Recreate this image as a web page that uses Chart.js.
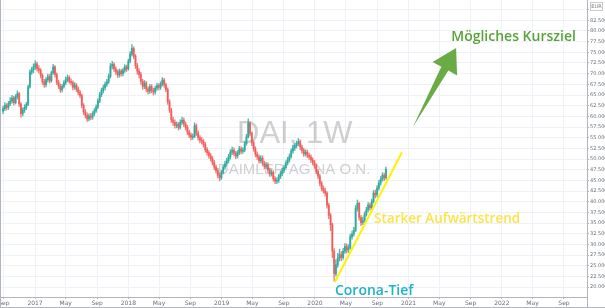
<!DOCTYPE html>
<html>
<head>
<meta charset="utf-8">
<script src="https://cdn.jsdelivr.net/npm/chart.js@4.4.0/dist/chart.umd.min.js"></script>
<style>
  html, body { margin: 0; padding: 0; background: #fff; }
  #wrap { width: 605px; height: 308px; }
</style>
</head>
<body>
<div id="wrap"><canvas id="canvas" width="605" height="308"></canvas></div>
<script>
// DAI weekly candles, first week starting 2016-08-29
const firstWeek = '2016-08-29';
const firstOpen = 61.2;

const closes = [
  61.8, 62.6, 62.1, 63.0, 63.6, 64.3, 63.2, 64.6, 65.3, 62.9,
  60.6, 61.5, 62.1, 62.8, 66.9, 70.4, 70.9, 71.6, 72.3, 71.2,
  70.8, 69.6, 68.1, 67.4, 68.6, 69.3, 68.4, 70.2, 71.6, 69.8,
  68.0, 67.1, 66.2, 67.0, 67.9, 68.6, 69.1, 68.2, 67.9, 66.8,
  67.3, 66.4, 65.6, 64.9, 62.6, 61.0, 60.2, 59.4, 60.1, 59.8,
  60.6, 61.3, 62.2, 63.6, 65.1, 66.0, 66.7, 67.5, 68.1, 69.4,
  71.8, 72.2, 71.1, 70.4, 69.7, 70.6, 70.0, 70.8, 71.6, 71.1,
  72.9, 74.6, 75.9, 74.1, 71.9, 70.6, 69.8, 68.2, 67.0, 67.8,
  66.4, 65.9, 67.0, 66.1, 65.7, 66.6, 67.2, 66.8, 67.6, 68.5,
  67.4, 66.3, 63.4, 61.5, 59.2, 58.6, 57.9, 58.1, 57.4, 58.6,
  59.1, 58.2, 57.4, 56.3, 55.6, 55.1, 55.3, 57.8, 56.1, 55.0,
  54.4, 54.1, 53.4, 52.2, 51.5, 50.8, 50.1, 49.2, 48.1, 47.3,
  46.2, 45.6, 46.9, 48.1, 48.9, 49.6, 50.5, 51.6, 52.1, 51.3,
  50.7, 51.5, 52.4, 51.8, 52.1, 53.6, 55.2, 58.4, 56.0, 53.8,
  52.4, 51.1, 50.5, 49.6, 50.2, 49.0, 48.3, 48.6, 47.4, 46.5,
  46.9, 45.4, 44.8, 45.0, 45.9, 46.6, 47.3, 48.0, 49.1, 49.8,
  50.6, 51.9, 52.6, 53.1, 53.6, 54.1, 52.8, 52.0, 51.2, 51.6,
  50.9, 50.5, 49.8, 49.2, 48.4, 47.1, 46.0, 44.3, 43.1, 42.6,
  42.0, 39.2, 36.8, 34.6, 28.4, 23.1, 25.2, 26.8, 27.6, 26.9,
  28.4, 29.5, 28.7, 29.2, 31.8, 32.4, 33.3, 38.4, 39.6, 36.3,
  35.1, 35.6, 37.0, 38.1, 39.2, 38.6, 40.1, 42.0, 41.6, 43.2,
  44.4, 45.3, 46.2, 45.6, 47.6
];

const highs = [
  62.4, 63.2, 63.0, 63.5, 64.4, 64.9, 64.7, 65.1, 66.0, 65.6,
  63.2, 62.0, 62.7, 63.3, 67.3, 70.9, 71.5, 72.3, 73.0, 72.7,
  71.9, 71.2, 70.0, 68.7, 69.1, 69.9, 69.8, 70.6, 72.2, 71.9,
  70.2, 68.5, 67.6, 67.5, 68.4, 69.2, 69.7, 69.5, 68.8, 68.3,
  67.9, 67.7, 66.9, 66.1, 65.2, 63.0, 61.6, 60.8, 60.6, 60.7,
  61.1, 61.8, 62.7, 64.1, 65.6, 66.6, 67.3, 68.0, 68.7, 69.9,
  72.4, 72.9, 72.6, 71.6, 70.9, 71.1, 71.0, 71.3, 72.1, 72.0,
  73.4, 75.2, 76.8, 76.3, 74.5, 72.4, 71.2, 70.3, 68.7, 68.4,
  68.2, 66.9, 67.5, 67.4, 66.6, 67.1, 67.8, 67.7, 68.1, 69.1,
  68.9, 67.8, 66.7, 63.9, 61.9, 59.8, 59.2, 58.7, 58.6, 59.2,
  59.8, 59.6, 58.7, 57.9, 56.8, 56.1, 55.9, 58.5, 58.2, 56.6,
  55.5, 55.0, 54.6, 53.9, 52.7, 52.0, 51.3, 50.6, 49.7, 48.6,
  47.8, 46.7, 47.4, 48.6, 49.5, 50.2, 51.1, 52.2, 52.8, 52.6,
  51.8, 52.0, 53.0, 52.9, 52.7, 54.1, 55.8, 59.4, 58.8, 56.4,
  54.3, 52.9, 51.7, 51.0, 50.8, 50.7, 49.5, 49.2, 49.1, 47.9,
  47.5, 47.3, 45.9, 45.6, 46.4, 47.1, 47.9, 48.6, 49.6, 50.4,
  51.2, 52.4, 53.2, 53.7, 54.2, 54.8, 54.5, 53.3, 52.5, 52.2,
  52.1, 51.4, 51.0, 50.3, 49.7, 48.9, 47.6, 46.5, 44.8, 43.7,
  43.2, 42.4, 39.7, 37.3, 35.0, 29.0, 26.4, 27.9, 28.9, 28.3,
  29.1, 30.2, 30.1, 29.9, 32.4, 33.1, 34.0, 39.1, 40.4, 39.9,
  36.8, 36.4, 37.6, 38.7, 39.8, 39.7, 40.6, 42.6, 42.7, 43.8,
  45.0, 45.9, 46.8, 46.7, 48.1
];

const lows = [
  60.6, 61.3, 61.5, 61.6, 62.5, 63.1, 62.6, 62.9, 64.1, 62.3,
  59.8, 60.1, 60.9, 61.6, 62.5, 66.6, 69.8, 70.2, 71.0, 70.6,
  70.1, 69.0, 67.5, 66.8, 66.9, 68.0, 67.8, 68.0, 69.8, 69.2,
  67.4, 66.5, 65.6, 65.7, 66.6, 67.4, 68.1, 67.7, 67.3, 66.2,
  66.3, 65.8, 65.0, 64.3, 62.0, 60.4, 59.6, 58.8, 58.9, 59.2,
  59.3, 60.1, 60.9, 61.8, 63.2, 64.6, 65.5, 66.2, 67.0, 67.7,
  69.0, 71.1, 70.5, 69.8, 69.1, 69.2, 69.4, 69.5, 70.3, 70.5,
  70.8, 72.5, 74.1, 73.5, 71.2, 69.9, 69.0, 67.5, 66.3, 66.5,
  65.8, 65.2, 65.4, 65.5, 65.0, 65.2, 66.1, 66.2, 66.3, 67.1,
  66.8, 65.7, 62.8, 60.9, 58.6, 57.9, 57.2, 57.3, 56.8, 57.0,
  58.1, 57.6, 56.8, 55.7, 55.0, 54.5, 54.6, 55.0, 55.5, 54.4,
  53.8, 53.5, 52.8, 51.6, 50.9, 50.2, 49.5, 48.6, 47.5, 46.7,
  45.6, 44.9, 45.2, 46.5, 47.6, 48.4, 49.1, 50.0, 51.0, 50.7,
  50.1, 50.2, 51.0, 51.2, 51.3, 51.7, 53.2, 54.9, 55.4, 53.1,
  51.8, 50.5, 49.9, 49.0, 49.1, 48.4, 47.7, 47.8, 46.8, 45.9,
  46.0, 44.8, 44.2, 44.2, 44.5, 45.4, 46.1, 46.8, 47.6, 48.6,
  49.3, 50.2, 51.4, 52.0, 52.6, 53.1, 52.2, 51.4, 50.6, 50.7,
  50.3, 49.9, 49.2, 48.6, 47.8, 46.5, 45.4, 43.7, 42.5, 42.0,
  41.3, 38.5, 36.0, 33.2, 26.9, 21.4, 22.6, 24.6, 26.1, 26.2,
  26.5, 27.9, 28.0, 28.1, 28.9, 31.2, 31.9, 33.0, 37.8, 35.7,
  34.4, 34.6, 35.2, 36.6, 37.6, 38.0, 38.2, 39.7, 40.9, 41.1,
  42.7, 43.9, 44.8, 44.9, 45.2
];

// x axis labels
const tickDates = ['2016-09-01','2017-01-01','2017-05-01','2017-09-01','2018-01-01','2018-05-01','2018-09-01',
  '2019-01-01','2019-05-01','2019-09-01','2020-01-01','2020-05-01','2020-09-01','2021-01-01','2021-05-01',
  '2021-09-01','2022-01-01','2022-05-01','2022-09-01'];
const tickLabels = ['Sep','2017','May','Sep','2018','May','Sep','2019','May','Sep','2020','May','Sep',
  '2021','May','Sep','2022','May','Sep'];

const DAY = 86400000;
const t0 = Date.parse(firstWeek);
const opens = closes.map((c, i) => i === 0 ? firstOpen : closes[i - 1]);
const weekX = closes.map((c, i) => t0 + i * 7 * DAY);

const UP = 'rgba(38,166,154,0.82)', DOWN = 'rgba(239,83,80,0.78)';
const candleColor = ctx => closes[ctx.dataIndex] >= opens[ctx.dataIndex] ? UP : DOWN;

const bodies = closes.map((c, i) => ({ x: weekX[i], y: [opens[i], c] }));
const wicks = closes.map((c, i) => ({ x: weekX[i], y: [lows[i], highs[i]] }));

// drawings on top of the chart (anchored in date / price)
const drawings = {
  id: 'drawings',
  beforeDatasetsDraw(chart) {
    const { ctx } = chart;
    const xs = chart.scales.x, ys = chart.scales.y;
    ctx.save();
    ctx.fillStyle = 'rgba(150,150,150,0.45)';
    ctx.textAlign = 'left';
    ctx.textBaseline = 'alphabetic';
    ctx.font = '31px "Liberation Sans", Arial, sans-serif';
    ctx.fillText('DAI, 1W', xs.getPixelForValue(Date.parse('2019-03-02')), ys.getPixelForValue(53.8));
    ctx.font = '15px "Liberation Sans", Arial, sans-serif';
    ctx.fillText('DAIMLER AG NA O.N.', xs.getPixelForValue(Date.parse('2018-12-17')), ys.getPixelForValue(46.5));
    ctx.restore();
  },
  afterDatasetsDraw(chart) {
    const { ctx } = chart;
    const xs = chart.scales.x, ys = chart.scales.y;
    const P = (d, v) => [xs.getPixelForValue(Date.parse(d)), ys.getPixelForValue(v)];
    ctx.save();

    // trend line
    const [x1, y1] = P('2020-03-19', 21.2);
    const [x2, y2] = P('2020-12-06', 51.6);
    ctx.strokeStyle = '#fff200';
    ctx.lineWidth = 2;
    ctx.beginPath(); ctx.moveTo(x1, y1); ctx.lineTo(x2, y2); ctx.stroke();

    // arrow
    const [tx, ty] = P('2021-01-18', 57.5);
    const [hx, hy] = P('2021-07-06', 76.0);
    const len = Math.hypot(hx - tx, hy - ty);
    const dx = (hx - tx) / len, dy = (hy - ty) / len;
    const nx = -dy, ny = dx;
    const headLen = 23.5, headHalf = 14, shaftHalf = 4;
    const bx = hx - dx * headLen, by = hy - dy * headLen;
    ctx.fillStyle = '#6aab46';
    ctx.beginPath();
    ctx.moveTo(tx, ty);
    ctx.lineTo(bx - nx * shaftHalf, by - ny * shaftHalf);
    ctx.lineTo(bx - nx * headHalf, by - ny * headHalf);
    ctx.lineTo(hx, hy);
    ctx.lineTo(bx + nx * headHalf, by + ny * headHalf);
    ctx.lineTo(bx + nx * shaftHalf, by + ny * shaftHalf);
    ctx.closePath();
    ctx.fill();

    // texts
    ctx.textAlign = 'left';
    ctx.textBaseline = 'alphabetic';
    ctx.font = '600 14px "Open Sans", sans-serif';
    ctx.fillStyle = '#5aa33a';
    let [lx, ly] = P('2021-06-17', 77.77);
    ctx.fillText('Mögliches Kursziel', lx, ly);

    ctx.font = '600 13.5px "Open Sans", sans-serif';
    ctx.fillStyle = '#f9e547';
    [lx, ly] = P('2020-08-19', 35.0);
    ctx.fillText('Starker Aufwärtstrend', lx, ly);

    ctx.font = '600 14px "Open Sans", sans-serif';
    ctx.fillStyle = '#1db4c7';
    [lx, ly] = P('2020-03-19', 18.14);
    ctx.fillText('Corona-Tief', lx, ly);
    ctx.restore();
  },
  afterDraw(chart) {
    const { ctx, chartArea: a, width, height } = chart;
    ctx.save();
    ctx.strokeStyle = '#b2b5be';
    ctx.lineWidth = 1;
    ctx.beginPath();
    ctx.moveTo(0.5, 0); ctx.lineTo(0.5, height);
    ctx.moveTo(0, height - 0.5); ctx.lineTo(width, height - 0.5);
    ctx.moveTo(Math.round(a.right) + 0.5, a.bottom); ctx.lineTo(Math.round(a.right) + 0.5, height);
    ctx.stroke();
    // currency box
    ctx.fillStyle = '#fff';
    ctx.fillRect(a.right + 3, 2, 13, 9);
    ctx.strokeStyle = '#c8cad0';
    ctx.strokeRect(a.right + 3.5, 2.5, 12, 8);
    ctx.fillStyle = '#777';
    ctx.font = '5px "DejaVu Sans", sans-serif';
    ctx.textAlign = 'center';
    ctx.textBaseline = 'middle';
    ctx.fillText('EUR', a.right + 9.5, 6.7);
    ctx.restore();
  }
};

const ctx = document.getElementById('canvas');
const chart = new Chart(ctx, {
  type: 'bar',
  data: {
    datasets: [
      { label: 'wick', data: wicks, grouped: false, barThickness: 0.7, backgroundColor: candleColor, order: 2 },
      { label: 'body', data: bodies, grouped: false, barThickness: 1.3, backgroundColor: candleColor, order: 1 }
    ]
  },
  options: {
    responsive: false,
    animation: false,
    layout: { padding: 0 },
    plugins: { legend: { display: false }, tooltip: { enabled: false } },
    scales: {
      x: {
        type: 'linear',
        offset: false,
        min: Date.UTC(2016, 7, 17),
        max: Date.UTC(2022, 10, 30),
        afterBuildTicks: axis => { axis.ticks = tickDates.map(d => ({ value: Date.parse(d) })); },
        afterFit: axis => { axis.height = 11; axis.paddingLeft = 0; axis.paddingRight = 0; },
        ticks: {
          autoSkip: false, maxRotation: 0, padding: 1,
          color: '#6a6d78', font: { size: 6, family: '"DejaVu Sans", sans-serif' },
          callback: (v, i) => tickLabels[i]
        },
        grid: { offset: false, color: '#eef1f6', tickColor: '#b2b5be', tickLength: 2 },
        border: { color: '#b2b5be' }
      },
      y: {
        position: 'right',
        beginAtZero: false,
        min: 17.67,
        max: 87.26,
        afterFit: axis => { axis.width = 18; axis.paddingTop = 0; axis.paddingBottom = 0; },
        ticks: {
          stepSize: 2.5, includeBounds: false, padding: 1,
          color: '#6a6d78', font: { size: 5, family: '"DejaVu Sans", sans-serif' },
          callback: v => v > 83 ? '' : v.toFixed(3)
        },
        grid: { color: '#eef1f6', tickColor: '#b2b5be', tickLength: 2 },
        border: { color: '#b2b5be' }
      }
    }
  },
  plugins: [drawings]
});
</script>
</body>
</html>
